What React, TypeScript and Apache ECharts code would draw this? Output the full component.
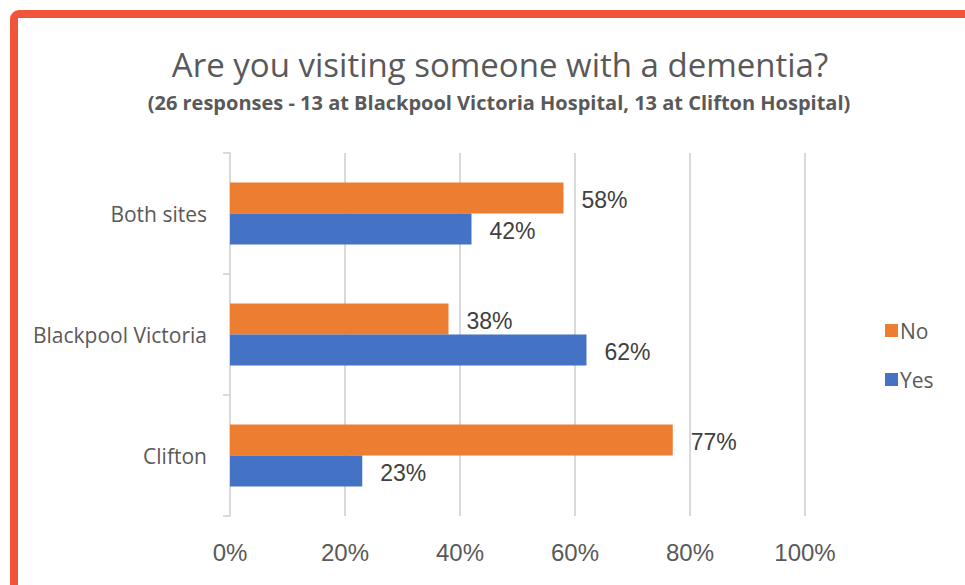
import React, { useEffect, useRef } from "react";
import * as echarts from "echarts";

const categories = ["Clifton", "Blackpool Victoria", "Both sites"];
const noValues = [77, 38, 58];
const yesValues = [23, 62, 42];
const xTicks = [0, 20, 40, 60, 80, 100];

const TITLE = "Are you visiting someone with a dementia?";
const SUBTITLE = "(26 responses - 13 at Blackpool Victoria Hospital, 13 at Clifton Hospital)";

export default function App() {
  const ref = useRef<HTMLDivElement>(null);
  useEffect(() => {
    if (!ref.current) return;
    const chart = echarts.init(ref.current, null, { renderer: "svg" });
    const sansC = "'Open Sans', Lato, sans-serif";
    const arial = "'Liberation Sans', Arial, sans-serif";
    const lbl = {
      show: true,
      position: "right",
      distance: 18,
      offset: [0, 2],
      formatter: "{c}%",
      fontFamily: arial,
      fontSize: 23,
      color: "#404040",
    };
    chart.setOption({
      animation: false,
      backgroundColor: "#ffffff",
      title: [
        {
          text: TITLE,
          left: 495,
          textAlign: "center",
          top: 43,
          textStyle: { fontFamily: sansC, fontSize: 33, fontWeight: "normal", color: "#595959" },
        },
        {
          text: SUBTITLE,
          left: 494,
          textAlign: "center",
          top: 87,
          textStyle: { fontFamily: sansC, fontSize: 20, fontWeight: "bold", color: "#595959" },
        },
      ],
      graphic: [
        {
          type: "rect",
          shape: { x: 14, y: 14, width: 2000, height: 2000, r: 5 },
          style: { fill: "none", stroke: "#F0553C", lineWidth: 8 },
          silent: true,
        },
      ],
      legend: {
        orient: "vertical",
        left: 880,
        top: 315,
        itemGap: 28,
        itemWidth: 13,
        itemHeight: 13,
        data: ["No", "Yes"],
        icon: "rect",
        textStyle: { fontFamily: sansC, fontSize: 21, color: "#595959", padding: [0, 0, 0, -3] },
      },
      grid: { left: 230, right: 160, top: 153, bottom: 69, containLabel: false },
      xAxis: {
        type: "value",
        min: xTicks[0],
        max: xTicks[xTicks.length - 1],
        interval: 20,
        axisLine: { show: false },
        axisTick: { show: false },
        splitLine: { lineStyle: { color: "#D9D9D9", width: 2 } },
        axisLabel: {
          formatter: (v: number) => v + "%",
          fontFamily: arial,
          fontSize: 24,
          color: "#595959",
          margin: 24,
        },
      },
      yAxis: {
        type: "category",
        data: categories,
        axisLine: { show: true, lineStyle: { color: "#D9D9D9", width: 2 } },
        axisTick: { show: true, length: 7, lineStyle: { color: "#D9D9D9", width: 2 } },
        axisLabel: { fontFamily: sansC, fontSize: 21, color: "#595959", margin: 23 },
      },
      series: [
        {
          name: "No",
          type: "bar",
          data: noValues,
          barWidth: 31,
          barGap: "0%",
          itemStyle: { color: "#ED7D31" },
          label: lbl,
        },
        {
          name: "Yes",
          type: "bar",
          data: yesValues,
          barWidth: 31,
          barGap: "0%",
          itemStyle: { color: "#4472C4" },
          label: lbl,
        },
      ],
    });
    return () => chart.dispose();
  }, []);
  return (
    <div
      ref={ref}
      style={{ position: "fixed", left: 0, top: 0, width: 965, height: 585, background: "#fff" }}
    />
  );
}
